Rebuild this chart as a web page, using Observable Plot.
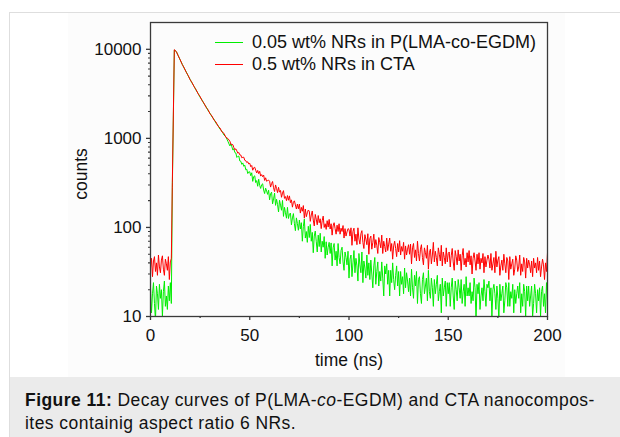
<!DOCTYPE html>
<html><head><meta charset="utf-8">
<script src="https://cdn.jsdelivr.net/npm/d3@7"></script>
<script src="https://cdn.jsdelivr.net/npm/@observablehq/plot@0.6"></script>
<style>
html,body{margin:0;padding:0;background:#fff;}
body{width:620px;height:437px;overflow:hidden;position:relative;font-family:"Liberation Sans",Arial,Helvetica,sans-serif;}
#fig{position:absolute;left:9px;top:12px;width:700px;height:500px;border:1px solid #dedede;background:#fff;}
#chart{position:absolute;left:58px;top:0;width:497px;height:364px;background:#fcfcfc;}
#chart svg{display:block;}
#caption{position:absolute;left:0;top:364px;width:100%;height:200px;background:#ebebeb;box-sizing:border-box;padding:12px 0 0 15px;font-size:17.5px;line-height:23px;color:#111;letter-spacing:0.45px;white-space:nowrap;}
#legend{position:absolute;left:147px;top:0;font-size:18px;color:#111;}
.row{position:absolute;left:0;white-space:nowrap;height:22px;display:flex;align-items:center;}
.sw{display:inline-block;width:28px;height:1px;margin-right:9px;}
</style></head>
<body>
<div id="fig">
  <div id="chart"></div>
  <div id="caption"><b>Figure 11:</b> Decay curves of P(LMA-<i>co</i>-EGDM) and CTA nanocompos-<br>ites containig aspect ratio 6 NRs.</div>
</div>
<script>
// time channels (ns)
const timeNs = [
0,0.5,1,1.5,2,2.5,3,3.5,4,4.5,5,5.5,6,6.5,7,7.5,8,8.5,9,9.5,10,10.5,
11,12,13,14,15,16,17,18,19,20,21,22,23,24,25,26,27,28,29,30,31,32,33,34,35,36,37,38,39,
40,40.5,41,41.5,42,42.5,43,43.5,44,44.5,45,45.5,46,46.5,47,47.5,48,48.5,49,49.5,
50,50.5,51,51.5,52,52.5,53,53.5,54,54.5,55,55.5,56,56.5,57,57.5,58,58.5,59,59.5,
60,60.5,61,61.5,62,62.5,63,63.5,64,64.5,65,65.5,66,66.5,67,67.5,68,68.5,69,69.5,
70,70.5,71,71.5,72,72.5,73,73.5,74,74.5,75,75.5,76,76.5,77,77.5,78,78.5,79,79.5,
80,80.5,81,81.5,82,82.5,83,83.5,84,84.5,85,85.5,86,86.5,87,87.5,88,88.5,89,89.5,
90,90.5,91,91.5,92,92.5,93,93.5,94,94.5,95,95.5,96,96.5,97,97.5,98,98.5,99,99.5,
100,100.5,101,101.5,102,102.5,103,103.5,104,104.5,105,105.5,106,106.5,107,107.5,108,108.5,109,109.5,
110,110.5,111,111.5,112,112.5,113,113.5,114,114.5,115,115.5,116,116.5,117,117.5,118,118.5,119,119.5,
120,120.5,121,121.5,122,122.5,123,123.5,124,124.5,125,125.5,126,126.5,127,127.5,128,128.5,129,129.5,
130,130.5,131,131.5,132,132.5,133,133.5,134,134.5,135,135.5,136,136.5,137,137.5,138,138.5,139,139.5,
140,140.5,141,141.5,142,142.5,143,143.5,144,144.5,145,145.5,146,146.5,147,147.5,148,148.5,149,149.5,
150,150.5,151,151.5,152,152.5,153,153.5,154,154.5,155,155.5,156,156.5,157,157.5,158,158.5,159,159.5,
160,160.5,161,161.5,162,162.5,163,163.5,164,164.5,165,165.5,166,166.5,167,167.5,168,168.5,169,169.5,
170,170.5,171,171.5,172,172.5,173,173.5,174,174.5,175,175.5,176,176.5,177,177.5,178,178.5,179,179.5,
180,180.5,181,181.5,182,182.5,183,183.5,184,184.5,185,185.5,186,186.5,187,187.5,188,188.5,189,189.5,
190,190.5,191,191.5,192,192.5,193,193.5,194,194.5,195,195.5,196,196.5,197,197.5,198,198.5,199,199.5,
200];

// counts: 0.5 wt% NRs in CTA (red)
const ctaCounts = [
35,45,28,42,47,32,40,29,49,36,31,43,48,34,29,44,39,33,47,26,41,45,
320,9900,9460,8420,7600,6750,6170,5530,5070,4540,4200,3790,3510,3160,2940,2650,2475,2230,2095,1885,1780,1600,1525,1370,1310,1180,1140,1025,995,
928,856,856,848,786,745,763,723,682,694,652,650,605,613,614,567,562,535,546,516,
525,481,496,439,468,474,439,409,437,402,427,377,392,371,387,337,361,330,336,340,
330,284,311,328,279,253,300,274,246,282,249,260,218,243,259,212,222,200,228,202,
226,190,204,169,192,199,179,161,183,162,183,145,168,152,176,127,161,132,146,157,
152,117,138,153,121,104,140,124,107,136,113,125,97,119,134,100,110,95,119,101,
123,96,110,82,104,113,97,84,106,90,110,84,98,90,105,76,97,80,89,97,
95,80,99,63,90,98,70,84,64,99,74,65,85,92,68,58,83,74,64,85,
50,75,80,57,68,84,59,73,63,51,77,68,59,82,51,70,61,53,76,55,
65,76,54,66,44,62,70,58,47,66,53,71,49,61,54,68,44,62,49,57,
64,50,65,39,59,66,46,56,42,70,51,42,57,64,46,38,59,52,45,63,
34,52,57,39,49,68,41,54,46,37,59,50,42,63,37,53,46,39,59,41,
51,53,36,48,58,41,33,55,47,38,56,42,50,33,48,58,38,45,36,52,
41,55,38,48,30,45,52,42,33,50,39,52,34,45,40,51,31,47,36,43,
49,44,35,51,33,39,46,31,54,36,43,47,29,37,43,33,50,39,31,46,
42,26,47,34,39,44,29,34,48,43,32,36,49,29,39,32,46,41,27,45,
35,43,38,31,42,28,45,35,40,31,46,33,42,28,36,44,38,26,40,32,
52];

// counts: 0.05 wt% NRs in P(LMA-co-EGDM) (green)
const lmaCounts = [
21,11,18,24,14,9,22,18,12,23,16,20,10,19,25,13,17,12,22,15,24,14,
280,9800,9420,8470,7550,6800,6120,5580,5020,4580,4150,3830,3460,3200,2890,2690,2430,2270,2050,1915,1740,1640,1480,1400,1265,1205,1090,1040,925,
823,868,804,739,766,693,685,611,628,632,557,553,511,530,486,500,444,451,403,421,
421,381,411,329,373,380,319,336,290,348,297,274,302,309,263,240,276,256,235,262,
204,239,249,184,209,243,177,207,181,149,202,178,156,201,133,168,146,127,168,126,
141,145,107,128,143,110,92,128,111,93,121,96,113,70,103,124,76,90,68,103,
77,108,70,88,52,80,91,70,53,82,61,86,53,70,60,79,45,69,49,60,
68,51,67,37,59,66,43,54,37,66,46,39,55,60,41,33,53,46,38,54,
27,44,49,28,40,55,31,45,37,25,51,38,31,53,24,42,35,27,49,29,
40,26,43,30,21,37,46,23,32,41,22,32,25,41,27,17,37,30,39,23,
33,17,33,24,40,26,20,29,37,22,32,17,32,23,28,18,35,21,31,25,
19,27,17,34,21,16,29,22,32,14,26,28,18,14,26,31,18,22,27,15,
33,19,16,27,21,13,26,18,23,29,15,19,23,11,27,17,21,25,13,24,
18,24,13,21,27,17,12,25,20,15,26,21,16,26,14,19,23,13,28,17,
21,17,24,14,19,15,27,21,9,23,18,24,12,17,21,15,26,19,13,23,
21,25,15,21,10,20,23,18,12,22,16,9,23,15,18,22,11,15,24,21,
13,24,13,19,16,23,11,20,14,18,22,16,24,11,18,13,23,19,10,22,
15,22,13,17,22,10,14,23,18,11,20,15,21,10,19,22,13,18,11,24,
15];

const seriesNames = ["0.05 wt% NRs in P(LMA-co-EGDM)", "0.5 wt% NRs in CTA"];
const seriesColors = ["#00ee00", "#ff0000"];
const xTicks = [0, 50, 100, 150, 200];
const xMinorTicks = [25, 75, 125, 175];
const yTicks = [10, 100, 1000, 10000];
const yMinorTicks = [20,30,40,50,60,70,80,90,200,300,400,500,600,700,800,900,2000,3000,4000,5000,6000,7000,8000,9000];
const xLabel = "time (ns)";
const yLabel = "counts";

const lmaRows = timeNs.map((t, i) => ({t, v: lmaCounts[i]}));
const ctaRows = timeNs.map((t, i) => ({t, v: ctaCounts[i]}));

const axisColor = "#3a3a3a";
const chart = Plot.plot({
  width: 497, height: 364,
  marginLeft: 82, marginRight: 18, marginTop: 9, marginBottom: 61,
  style: {background: "transparent", fontFamily: "Liberation Sans, Arial, sans-serif", fontSize: "17px", color: "#111", overflow: "visible"},
  x: {domain: [0, 200]},
  y: {type: "log", domain: [10, 20000]},
  marks: [
    Plot.line(lmaRows, {x: "t", y: "v", stroke: seriesColors[0], strokeWidth: 1, clip: true}),
    Plot.line(ctaRows, {x: "t", y: "v", stroke: seriesColors[1], strokeWidth: 1, clip: true}),
    Plot.frame({stroke: axisColor, strokeWidth: 1.3}),
    Plot.axisX(xTicks, {tickSize: 4, tickPadding: 8, tickFormat: d => String(d), label: null, stroke: axisColor, strokeWidth: 1.3}),
    Plot.axisX(xMinorTicks, {tickSize: 2, tickFormat: () => "", label: null, stroke: axisColor, strokeWidth: 1.3}),
    Plot.axisY(yTicks, {tickSize: 4, tickPadding: 5, tickFormat: d => String(d), label: null, stroke: axisColor, strokeWidth: 1.3}),
    Plot.axisY(yMinorTicks, {tickSize: 2, tickFormat: () => "", label: null, stroke: axisColor, strokeWidth: 1.1}),
    Plot.text([yLabel], {text: d => d, frameAnchor: "left", dx: -69, dy: 4.5, rotate: -90, lineAnchor: "middle", textAnchor: "middle", fontSize: 17.5, fill: "#111"}),
    Plot.text([xLabel], {text: d => d, frameAnchor: "bottom", dy: 36.6, lineAnchor: "top", textAnchor: "middle", fontSize: 17.5, fill: "#111"})
  ]
});
const holder = document.getElementById("chart");
holder.appendChild(chart);

const legend = document.createElement("div");
legend.id = "legend";
seriesNames.forEach((name, i) => {
  const row = document.createElement("div");
  row.className = "row";
  row.style.top = (18.5 + i * 21.5) + "px";
  const sw = document.createElement("span");
  sw.className = "sw";
  sw.style.background = seriesColors[i];
  row.appendChild(sw);
  row.appendChild(document.createTextNode(name));
  legend.appendChild(row);
});
holder.appendChild(legend);
</script>
</body></html>
